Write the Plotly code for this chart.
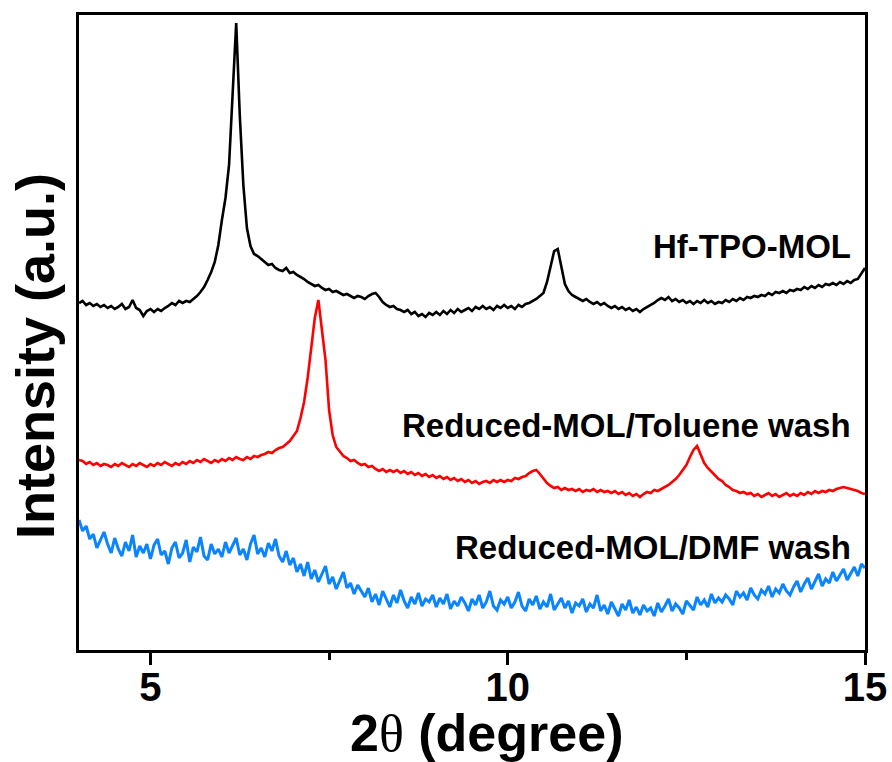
import plotly.graph_objects as go

# 2-theta grid (degrees)
X_START = 4.0
X_STEP = 0.05
N_POINTS = 221

# Intensities (a.u.) at each 0.05 degree step, 4.00 -> 15.00
hf_tpo_mol = [
    349, 351, 347, 349, 346, 348, 345, 347, 344, 346, 343, 345, 348, 343, 345, 352, 344, 342, 336, 341,
    343, 340, 343, 341, 344, 346, 349, 347, 351, 349, 351, 350, 353, 356, 360, 365, 372, 380, 390, 407,
    432, 454, 487, 557, 629, 537, 467, 424, 406, 398, 396, 393, 390, 387, 388, 384, 382, 381, 384, 379,
    380, 377, 375, 373, 370, 368, 366, 367, 364, 362, 363, 360, 361, 359, 357, 358, 356, 354, 356, 355,
    353, 356, 358, 359, 355, 350, 347, 345, 346, 343, 342, 340, 342, 338, 340, 336, 338, 335, 339, 337,
    340, 337, 341, 338, 342, 339, 343, 340, 342, 344, 341, 345, 343, 346, 343, 345, 342, 346, 344, 347,
    344, 346, 343, 347, 345, 348, 349, 351, 353, 356, 359, 370, 384, 401, 403, 386, 368, 361, 357, 355,
    353, 351, 353, 350, 348, 350, 347, 349, 346, 344, 346, 343, 345, 342, 344, 341, 343, 340, 343, 345,
    347, 349, 352, 354, 352, 355, 351, 353, 350, 352, 349, 351, 348, 351, 349, 352, 349, 351, 348, 350,
    349, 352, 350, 353, 351, 354, 352, 355, 354, 356, 355, 357, 356, 359, 357, 360, 359, 361, 359, 362,
    361, 363, 362, 365, 363, 366, 364, 367, 365, 368, 367, 369, 367, 370, 368, 371, 369, 372, 373, 378,
    384,
]

reduced_toluene = [
    192, 191, 188, 190, 187, 189, 186, 188, 187, 185, 188, 186, 189, 187, 185, 188, 186, 189, 187, 185,
    188, 186, 189, 187, 190, 188, 186, 189, 187, 190, 188, 191, 189, 192, 190, 193, 191, 189, 192, 190,
    193, 191, 194, 192, 195, 193, 192, 195, 193, 196, 195, 197, 198, 200, 199, 202, 204, 205, 208, 211,
    216, 221, 234, 250, 274, 305, 334, 352, 324, 292, 242, 217, 205, 200, 196, 194, 191, 192, 189, 187,
    188, 185, 186, 183, 181, 183, 180, 182, 180, 182, 179, 181, 178, 180, 177, 179, 176, 178, 175, 177,
    174, 176, 173, 175, 172, 174, 171, 173, 170, 172, 169, 171, 168, 170, 171, 169, 172, 170, 172, 170,
    172, 171, 174, 173, 175, 176, 179, 181, 182, 178, 173, 169, 166, 164, 165, 162, 164, 162, 163, 161,
    163, 160, 162, 161, 163, 160, 162, 160, 161, 159, 161, 158, 160, 157, 159, 156, 158, 155, 158, 160,
    159, 162, 161, 163, 165, 167, 170, 173, 177, 182, 187, 195, 202, 206, 197, 189, 184, 180, 177, 173,
    171, 167, 165, 162, 161, 159, 160, 158, 159, 156, 158, 155, 157, 159, 156, 158, 155, 157, 159, 156,
    158, 156, 159, 157, 160, 158, 161, 159, 161, 160, 162, 161, 163, 164, 165, 164, 163, 162, 161, 159,
    158,
]

reduced_dmf = [
    132, 121, 126, 113, 118, 104, 112, 120, 108, 99, 114, 103, 96, 110, 101, 117, 95, 106, 99, 108,
    93, 107, 113, 97, 101, 88, 104, 110, 94, 99, 112, 90, 105, 100, 115, 96, 92, 108, 98, 103,
    95, 110, 99, 106, 114, 97, 103, 92, 108, 117, 98, 104, 95, 109, 101, 113, 96, 90, 101, 87,
    94, 80, 88, 76, 90, 73, 82, 70, 79, 86, 68, 75, 63, 72, 80, 64, 69, 58, 67, 61,
    55, 64, 50, 58, 47, 61, 53, 45, 57, 49, 62, 51, 44, 55, 48, 59, 46, 53, 50, 57,
    45, 54, 48, 58, 43, 51, 46, 55, 49, 41, 53, 47, 57, 44, 50, 61, 46, 42, 52, 48,
    55, 44, 50, 60, 46, 41, 53, 47, 56, 43, 50, 45, 58, 42, 48, 54, 44, 51, 39, 49,
    46, 53, 40, 48, 44, 57, 41, 47, 38, 50, 43, 36, 48, 42, 52, 39, 45, 37, 47, 41,
    44, 36, 49, 40, 46, 53, 41, 48, 44, 38, 51, 46, 42, 55, 47, 52, 45, 58, 49, 54,
    50, 57, 53, 47, 61, 55, 59, 52, 64, 57, 53, 62, 58, 66, 55, 63, 59, 68, 61, 57,
    65, 71, 60, 68, 74, 63, 70, 78, 66, 73, 69, 80, 71, 77, 83, 72, 79, 85, 76, 88,
    84,
]

series_names = ["Hf-TPO-MOL", "Reduced-MOL/Toluene wash", "Reduced-MOL/DMF wash"]
label_y = [406, 227, 105]
x_ticks = [5, 10, 15]
x_minor_ticks = [7.5, 12.5]

assert len(hf_tpo_mol) == len(reduced_toluene) == len(reduced_dmf) == N_POINTS
two_theta = [round(X_START + X_STEP * i, 2) for i in range(N_POINTS)]

FONT = "Liberation Sans, Arial, sans-serif"
colors = ["#000000", "#ff0000", "#0a84ff"]
widths = [2.6, 2.6, 3]

fig = go.Figure()
for vals, name, c, w in zip([hf_tpo_mol, reduced_toluene, reduced_dmf], series_names, colors, widths):
    fig.add_trace(go.Scatter(x=two_theta, y=vals, mode="lines", name=name,
                             line=dict(color=c, width=w), showlegend=False))

for name, yv in zip(series_names, label_y):
    fig.add_annotation(x=14.825, y=yv, xref="x", yref="y", text="<b>%s</b>" % name,
                       showarrow=False, xanchor="right", yanchor="middle",
                       font=dict(family=FONT, size=33, color="black"))

fig.add_annotation(xref="paper", yref="paper", x=(35 - 79) / 786, y=(650 - 356) / 635,
                   text="<b>Intensity (a.u.)</b>", textangle=-90, showarrow=False,
                   xanchor="center", yanchor="middle",
                   font=dict(family=FONT, size=54, color="black"))
fig.add_annotation(xref="paper", yref="paper", x=(486 - 79) / 786, y=(650 - 733) / 635,
                   text="<b>2</b><span style=\"font-family:'Liberation Serif'\">θ</span><b> (degree)</b>",
                   showarrow=False, xanchor="center", yanchor="middle",
                   font=dict(family=FONT, size=52, color="black"))

fig.update_layout(
    width=892, height=762,
    margin=dict(l=79, r=27, t=15, b=112, autoexpand=False),
    paper_bgcolor="white", plot_bgcolor="white",
    xaxis=dict(range=[4, 15], tickvals=x_ticks, ticktext=[str(t) for t in x_ticks],
               automargin=False,
               ticks="outside", ticklen=12, tickwidth=3, tickcolor="black",
               ticklabelstandoff=-12,
               showline=True, linewidth=3, linecolor="black", mirror=True,
               showgrid=False, zeroline=False,
               tickfont=dict(family=FONT, size=40, color="black", weight="bold"),
               minor=dict(tickvals=x_minor_ticks, ticks="outside", ticklen=7,
                          tickwidth=3, tickcolor="black", showgrid=False)),
    yaxis=dict(range=[2, 637], showticklabels=False, ticks="", automargin=False,
               showline=True, linewidth=3, linecolor="black", mirror=True,
               showgrid=False, zeroline=False),
)

fig.write_html("out.html")
